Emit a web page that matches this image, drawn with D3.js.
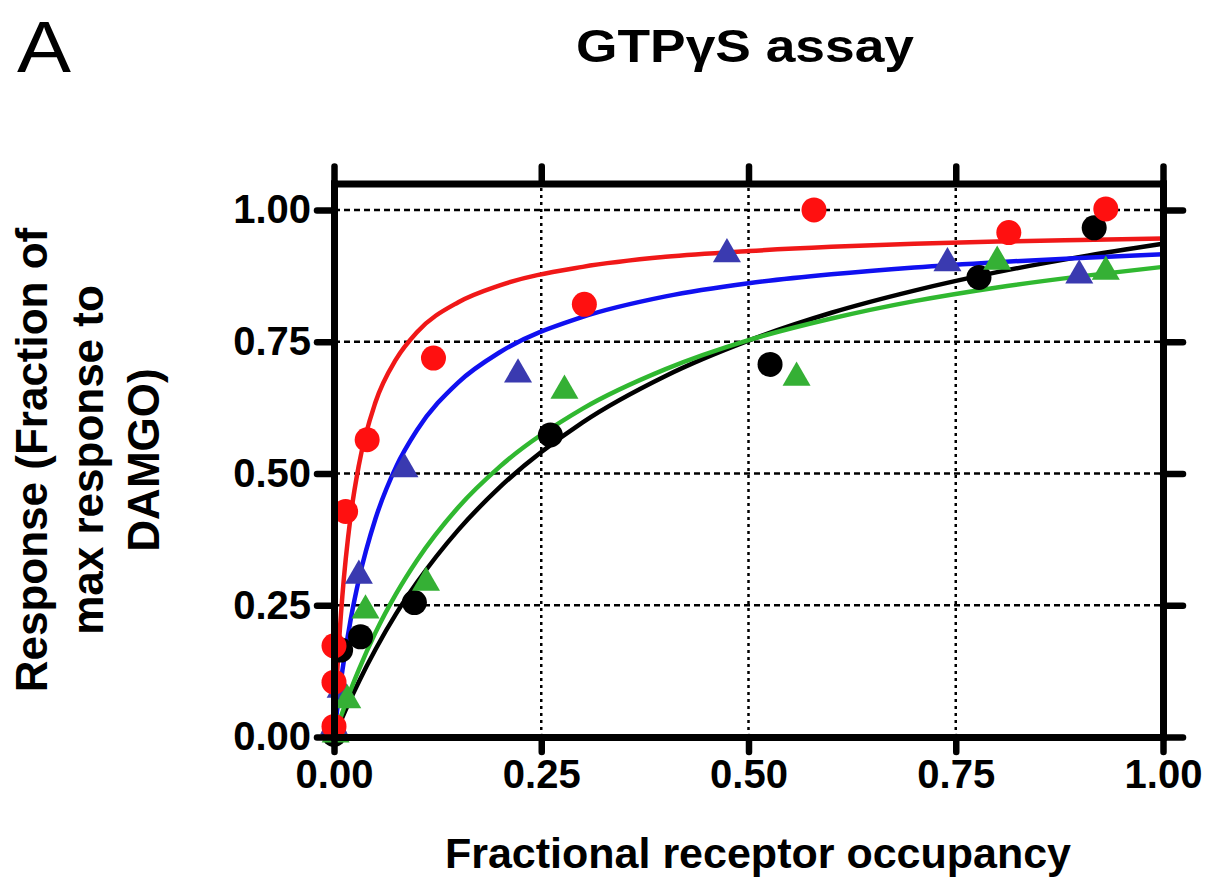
<!DOCTYPE html>
<html>
<head>
<meta charset="utf-8">
<script src="https://cdn.jsdelivr.net/npm/d3@7/dist/d3.min.js"></script>
<style>
  html, body { margin: 0; padding: 0; background: #fff; }
  svg { display: block; }
  text { font-family: "Liberation Sans", Arial, Helvetica, sans-serif; }
</style>
</head>
<body>
<svg id="chart" width="1205" height="882"></svg>
<script>
// ---------- data ----------
const panelLabel = "A";
const chartTitle = "GTPγS assay";
const xTitle = "Fractional receptor occupancy";
const yTitleLines = ["Response (Fraction of", "max response to", "DAMGO)"];
const xTicks = [0, 0.25, 0.5, 0.75, 1.0];
const yTicks = [0, 0.25, 0.5, 0.75, 1.0];

// data points (occupancy, response)
const blackX = [0.0, 0.008, 0.032, 0.097, 0.261, 0.526, 0.778, 0.917];
const blackY = [0.005, 0.165, 0.19, 0.255, 0.573, 0.707, 0.872, 0.966];
const redX = [0.0, 0.0, 0.0, 0.014, 0.040, 0.12, 0.302, 0.579, 0.814, 0.931];
const redY = [0.02, 0.104, 0.173, 0.428, 0.564, 0.719, 0.821, 1.0, 0.957, 1.002];
const blueX = [0.0, 0.008, 0.030, 0.085, 0.222, 0.474, 0.74, 0.899];
const blueY = [0.02, 0.09, 0.306, 0.508, 0.688, 0.916, 0.899, 0.876];
const greenX = [0.002, 0.016, 0.038, 0.111, 0.278, 0.558, 0.80, 0.931];
const greenY = [0.005, 0.07, 0.24, 0.293, 0.657, 0.682, 0.902, 0.883];

// fitted curves, values
const curveX = [0, 0.0025, 0.005, 0.01, 0.02, 0.03, 0.05, 0.075, 0.1, 0.15, 0.2, 0.3, 0.4, 0.5, 0.6, 0.7, 0.8, 0.9, 1.0];
const redFit   = [0, 0.084, 0.154, 0.266, 0.418, 0.516, 0.635, 0.717, 0.768, 0.825, 0.857, 0.892, 0.911, 0.922, 0.930, 0.936, 0.940, 0.943, 0.946];
const blueFit  = [0, 0.035, 0.067, 0.125, 0.222, 0.299, 0.414, 0.513, 0.582, 0.673, 0.730, 0.797, 0.836, 0.861, 0.878, 0.891, 0.901, 0.909, 0.916];
const blackFit = [0, 0.010, 0.019, 0.037, 0.072, 0.105, 0.166, 0.234, 0.293, 0.393, 0.474, 0.597, 0.685, 0.752, 0.805, 0.847, 0.882, 0.911, 0.936];
const greenFit = [0, 0.012, 0.024, 0.046, 0.089, 0.128, 0.198, 0.272, 0.335, 0.436, 0.513, 0.623, 0.698, 0.753, 0.794, 0.827, 0.853, 0.874, 0.892];

// ---------- layout ----------
const svg = d3.select("#chart");
const x = d3.scaleLinear().domain([0, 1]).range([334, 1163]);
const y = d3.scaleLinear().domain([0, 1.05]).range([737, 183.6]);

const C = {
  red: "#ff1010", redLine: "#f01818",
  blue: "#3a3ab0", blueLine: "#1010f0",
  green: "#35b035", greenLine: "#30b830",
  black: "#000"
};

// grid
const grid = svg.append("g");
grid.selectAll("line.h").data(yTicks.filter(d => d > 0)).join("line")
  .attr("x1", x(0)).attr("x2", x(1))
  .attr("y1", d => y(d)).attr("y2", d => y(d))
  .attr("stroke", "#000").attr("stroke-width", 2.5).attr("stroke-dasharray", "6,4");
grid.selectAll("line.v").data(xTicks.filter(d => d > 0 && d < 1)).join("line")
  .attr("y1", y(0)).attr("y2", y(1.05))
  .attr("x1", d => x(d)).attr("x2", d => x(d))
  .attr("stroke", "#000").attr("stroke-width", 2.5).attr("stroke-dasharray", "3,4");

// curves
const line = d3.line().x(d => x(d[0])).y(d => y(d[1])).curve(d3.curveMonotoneX);
const fits = [
  [blackFit, C.black], [greenFit, C.greenLine], [blueFit, C.blueLine], [redFit, C.redLine]
];
fits.forEach(([vals, col]) => {
  svg.append("path").datum(curveX.map((cx, i) => [cx, vals[i]]))
    .attr("d", line).attr("fill", "none").attr("stroke", col)
    .attr("stroke-width", 4.5).attr("stroke-linejoin", "round");
});

// points
const circ = d3.symbol().type(d3.symbolCircle).size(Math.PI * 12.5 * 12.5);
const tri = d3.symbol().type(d3.symbolTriangle).size(340);
function drawPts(xs, ys, sym, col) {
  svg.append("g").selectAll("path").data(xs.map((v, i) => [v, ys[i]])).join("path")
    .attr("d", sym)
    .attr("transform", d => `translate(${x(d[0])},${y(d[1])})`)
    .attr("fill", col);
}
drawPts(blackX, blackY, circ, C.black);
drawPts(blueX, blueY, tri, C.blue);
drawPts(greenX, greenY, tri, C.green);
drawPts(redX, redY, circ, C.red);

// axes (frame with outward ticks on all four sides)
function styleAxis(g, showLabels) {
  g.select(".domain").attr("stroke", "#000").attr("stroke-width", 7).attr("stroke-linecap", "square");
  g.selectAll(".tick line").attr("stroke", "#000").attr("stroke-width", 6.5).attr("stroke-linecap", "round");
  g.selectAll(".tick text")
    .attr("font-size", 40).attr("font-weight", "bold").attr("fill", "#000")
    .style("font-family", '"Liberation Sans", Arial, sans-serif');
  if (!showLabels) g.selectAll(".tick text").remove();
}
const fmt = d3.format(".2f");
svg.append("g").attr("transform", `translate(0,${y(0)})`)
  .call(d3.axisBottom(x).tickValues(xTicks).tickSize(15).tickSizeOuter(0).tickPadding(8).tickFormat(fmt))
  .call(g => styleAxis(g, true));
svg.append("g").attr("transform", `translate(0,${y(1.05)})`)
  .call(d3.axisTop(x).tickValues(xTicks).tickSize(17).tickSizeOuter(0).tickFormat(""))
  .call(g => styleAxis(g, false));
svg.append("g").attr("transform", `translate(${x(0)},0)`)
  .call(d3.axisLeft(y).tickValues(yTicks).tickSize(17).tickSizeOuter(0).tickPadding(6).tickFormat(fmt))
  .call(g => styleAxis(g, true));
svg.append("g").attr("transform", `translate(${x(1)},0)`)
  .call(d3.axisRight(y).tickValues(yTicks).tickSize(20).tickSizeOuter(0).tickFormat(""))
  .call(g => styleAxis(g, false));

// titles
svg.append("text").attr("x", 17).attr("y", 72)
  .attr("font-size", 72).attr("font-weight", "normal")
  .attr("textLength", 54).attr("lengthAdjust", "spacingAndGlyphs").text(panelLabel);
svg.append("text").attr("x", 745).attr("y", 62).attr("text-anchor", "middle")
  .attr("font-size", 47).attr("font-weight", "bold")
  .attr("textLength", 338).attr("lengthAdjust", "spacingAndGlyphs").text(chartTitle);
svg.append("text").attr("x", 758).attr("y", 868).attr("text-anchor", "middle")
  .attr("font-size", 43).attr("font-weight", "bold").text(xTitle);
const yt = svg.append("text").attr("transform", "translate(0,460) rotate(-90)")
  .attr("text-anchor", "middle").attr("font-size", 44).attr("font-weight", "bold");
yTitleLines.forEach((t, i) => {
  yt.append("tspan").attr("x", 0).attr("y", 47 + i * 56).text(t);
});
</script>
</body>
</html>
